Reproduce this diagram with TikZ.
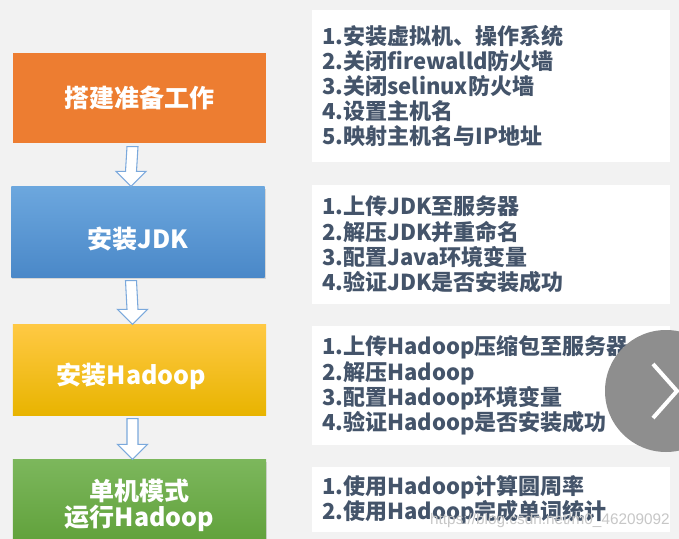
\documentclass[tikz,border=0pt]{standalone}
\usepackage{fontspec}
\newfontfamily\cjk{Noto Sans CJK SC}
\newfontfamily\wmfont{Liberation Sans}
\usetikzlibrary{calc,shadows}

\definecolor{pagebg}{HTML}{F2F2F2}
\definecolor{prepfill}{HTML}{ED7D31}
\definecolor{jdktop}{HTML}{6CA7DE}
\definecolor{jdkbot}{HTML}{4A88C8}
\definecolor{hdtop}{HTML}{FFC944}
\definecolor{hdmid}{HTML}{FFC000}
\definecolor{hdbot}{HTML}{E8B400}
\definecolor{runtop}{HTML}{7CB75C}
\definecolor{runbot}{HTML}{5E9F38}
\definecolor{notetext}{HTML}{44546A}
\definecolor{arrowline}{HTML}{7BA9DC}
\definecolor{btngray}{HTML}{8E8E8E}

\tikzset{
	stepbox/.style={inner sep=0pt, minimum width=190pt, minimum height=68pt, text=white, align=center,
		font=\cjk\bfseries\fontsize{18.75}{19.5}\selectfont},
	notebox/.style={fill=white, anchor=west, inner xsep=7.5pt, inner ysep=0pt, minimum width=268.5pt,
		text width=253.5pt, align=left, text=notetext, font=\cjk\bfseries\fontsize{16.5}{18.9}\selectfont},
	flowarrow/.style={fill=white, draw=arrowline, line width=0.8pt, line join=miter},
	softshadow/.style={drop shadow={opacity=0.25, shadow xshift=0.8pt, shadow yshift=-1.5pt}}
}

% hollow down arrow from box #1 to box #2
\newcommand\flowdown[2]{%
	\draw [flowarrow] ($(#1.south)+(-12.5,3)$) -- ($(#1.south)+(-1.5,3)$) -- ($(#2.north)+(-1.5,-15)$)
		-- ($(#2.north)+(8,-15)$) -- ($(#2.north)+(-7,0)$) -- ($(#2.north)+(-22,-15)$)
		-- ($(#2.north)+(-12.5,-15)$) -- cycle ;}

\begin{document}
\begin{tikzpicture}[x=0.75pt,y=0.75pt,yscale=-1]
	\useasboundingbox (0,0) rectangle (679,539);
	\clip (0,0) rectangle (679,539);
	\fill [pagebg] (0,0) rectangle (679,539);
	
	%Shape: Rectangle [steps]
	\node [stepbox, fill=prepfill] (prep) at (139.5,98) {搭建准备工作};
	\node [stepbox, softshadow, top color=jdktop, bottom color=jdkbot] (jdk) at (138,232) {\raisebox{-5pt}[\height][\depth]{安装JDK}};
	\node [stepbox, top color=hdtop, middle color=hdmid, bottom color=hdbot] (hadoop) at (139.5,370) {\raisebox{-4.5pt}[\height][\depth]{安装Hadoop}\hspace*{12pt}};
	\node [stepbox, softshadow, top color=runtop, bottom color=runbot] (run) at (139.5,505) {单机模式\\运行Hadoop};
	
	%Block Arrows
	\flowdown{prep}{jdk}
	\flowdown{jdk}{hadoop}
	\flowdown{hadoop}{run}
	
	%Shape: Rectangle [notes]
	\node [notebox, minimum height=114pt] (prepnote) at (312,86) {1.安装虚拟机、操作系统\\2.关闭firewalld防火墙\\3.关闭selinux防火墙\\4.设置主机名\\5.映射主机名与IP地址};
	\node [notebox, minimum height=89pt] (jdknote) at (312,244.5) {1.上传JDK至服务器\\2.解压JDK并重命名\\3.配置Java环境变量\\4.验证JDK是否安装成功};
	\node [notebox, minimum height=89pt] (hadoopnote) at (312,385.5) {1.上传Hadoop压缩包至服务器\\2.解压Hadoop\\3.配置Hadoop环境变量\\4.验证Hadoop是否安装成功};
	\node [notebox, minimum height=49pt] (runnote) at (312,499.5) {1.使用Hadoop计算圆周率\\2.使用Hadoop完成单词统计};
	
	%Shape: Circle [next button]
	\node [circle, fill=btngray, minimum size=91.5pt, inner sep=0pt] (nextbtn) at (666,391) {};
	\draw [white, line width=3pt] ($(nextbtn)+(-13,-27)$) -- ($(nextbtn)+(11,0)$) -- ($(nextbtn)+(-13,27)$) ;
	
	%Watermark
	\node [anchor=east, text=black!22, font=\wmfont\fontsize{11.5}{12}\selectfont, inner sep=0pt] (mark) at (670,521) {https://blog.csdn.net/m0\_46209092};
\end{tikzpicture}
\end{document}
